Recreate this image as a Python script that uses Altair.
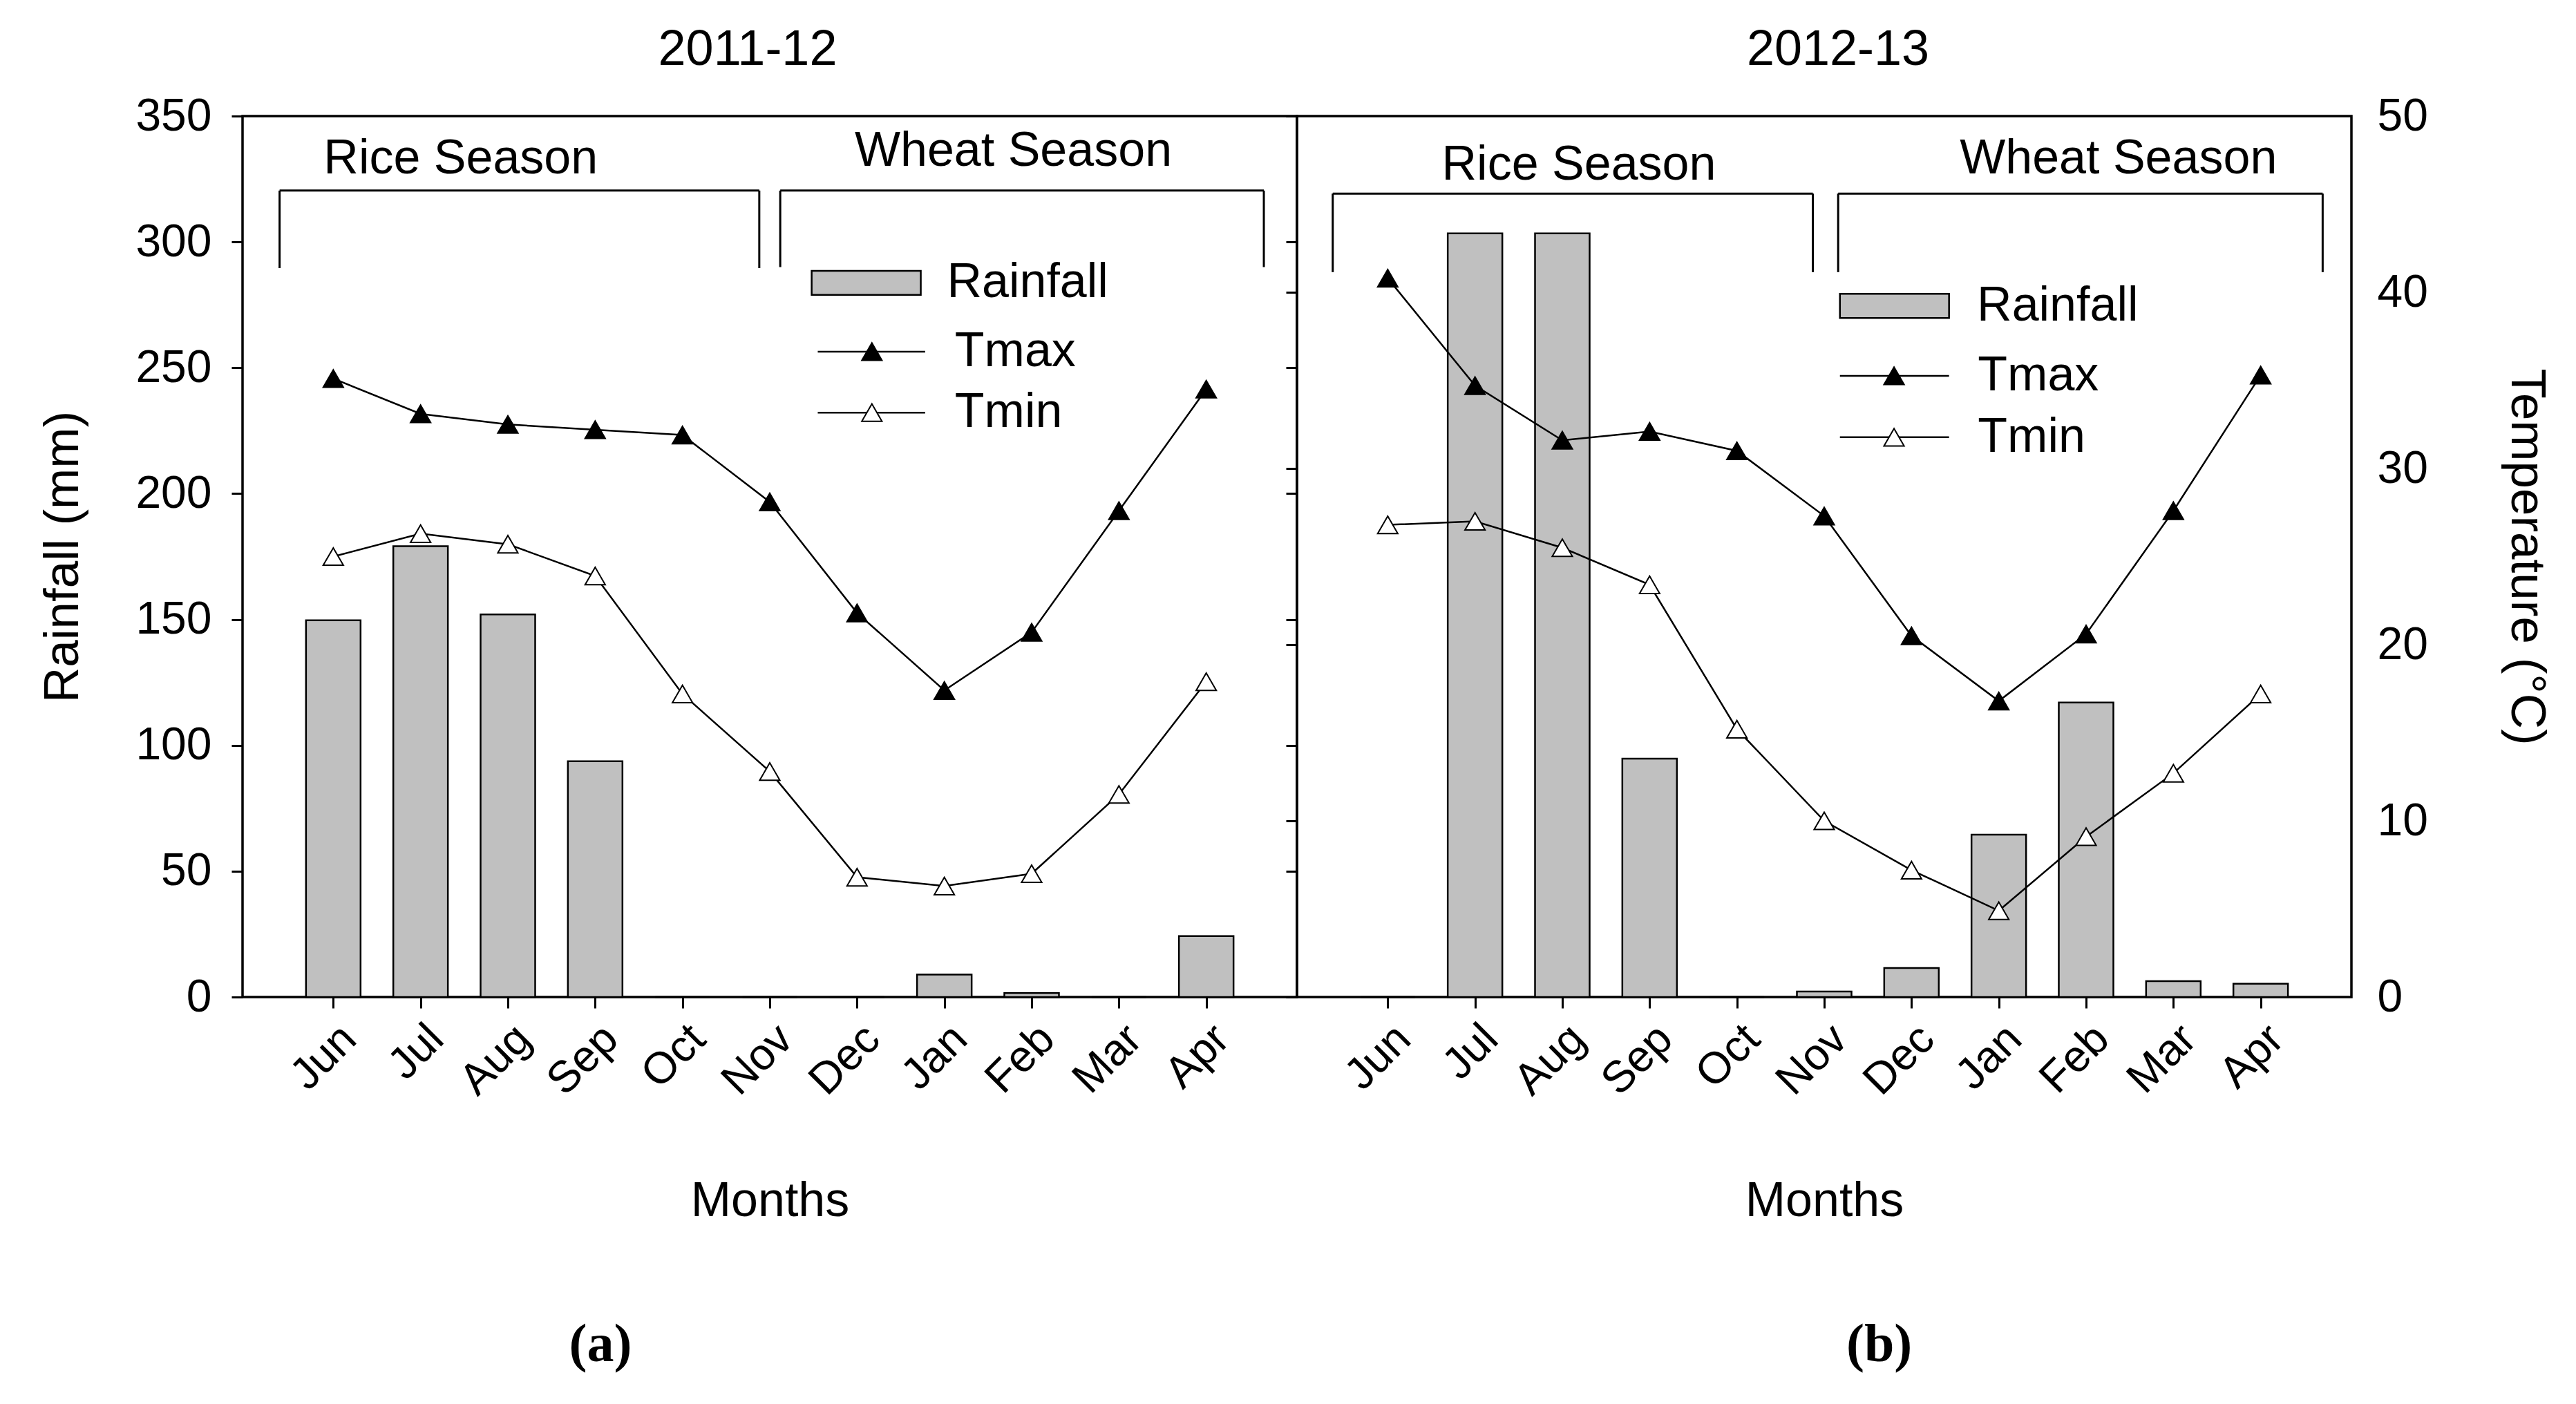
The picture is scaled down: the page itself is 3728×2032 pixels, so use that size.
import json
import altair as alt
import pandas as pd

# ---------------- data ----------------
months = ["Jun", "Jul", "Aug", "Sep", "Oct", "Nov", "Dec", "Jan", "Feb", "Mar", "Apr"]
month_idx = list(range(1, 12))

rain_1112 = [149.7, 179.1, 152.0, 93.7, 0, 0, 0, 8.9, 1.6, 0, 24.2]
tmax_1112 = [35.1, 33.1, 32.5, 32.2, 31.9, 28.1, 21.8, 17.4, 20.7, 27.6, 34.5]
tmin_1112 = [25.0, 26.3, 25.7, 23.9, 17.2, 12.8, 6.8, 6.3, 7.0, 11.5, 17.9]

rain_1213 = [0, 303.4, 303.4, 94.7, 0, 2.2, 11.5, 64.5, 117.0, 6.3, 5.3]
tmax_1213 = [40.8, 34.7, 31.6, 32.1, 31.0, 27.3, 20.5, 16.8, 20.6, 27.6, 35.3]
tmin_1213 = [26.8, 27.0, 25.5, 23.4, 15.2, 10.0, 7.2, 4.9, 9.1, 12.7, 17.2]

rain_ticks = [0, 50, 100, 150, 200, 250, 300, 350]
temp_ticks = [0, 10, 20, 30, 40, 50]

FONT = "Liberation Sans"
SERIF = "Liberation Serif"
W, H = 1526, 1275
GRAY = "#c0c0c0"
TXT = 70
label_expr = json.dumps(months).replace('"', "'") + "[datum.value - 1]"


def make_panel(rain, tmax, tmin, title, title_dx, first, ann):
    df = pd.DataFrame({"m": month_idx, "rain": rain, "tmax": tmax, "tmin": tmin})
    xs = alt.Scale(domain=[0, 12], nice=False, zero=False)
    ys_rain = alt.Scale(domain=[0, 350], nice=False)
    ys_temp = alt.Scale(domain=[0, 50], nice=False)

    x_axis = alt.Axis(values=month_idx, labelExpr=label_expr, labelAngle=315,
                      labelFontSize=64, labelFont=FONT, labelColor="black",
                      labelPadding=12, tickSize=16, tickWidth=3, tickColor="black",
                      domain=False, grid=False, title="Months", titleFont=FONT,
                      titleFontSize=70, titleFontWeight="normal", titleColor="black",
                      titlePadding=108)
    if first:
        rain_axis = alt.Axis(values=rain_ticks, orient="left", labelFontSize=66,
                             labelFont=FONT, labelColor="black", labelPadding=29,
                             tickSize=16, tickWidth=3, tickColor="black", domain=False,
                             grid=False, title="Rainfall (mm)", titleFont=FONT,
                             titleFontSize=71, titleFontWeight="normal",
                             titleColor="black", titlePadding=68)
        temp_axis = alt.Axis(values=temp_ticks, orient="right", labels=False,
                             tickSize=16, tickWidth=3, tickColor="black", offset=-16,
                             domain=False, grid=False, title="")
    else:
        rain_axis = alt.Axis(values=rain_ticks, orient="left", labels=False,
                             tickSize=16, tickWidth=3, tickColor="black",
                             domain=False, grid=False, title="")
        temp_axis = alt.Axis(values=temp_ticks, orient="right", labelFontSize=66,
                             labelFont=FONT, labelColor="black", labelPadding=37,
                             ticks=False, domain=False, grid=False,
                             title="Temperature (°C)", titleFont=FONT,
                             titleFontSize=71, titleFontWeight="normal",
                             titleColor="black", titlePadding=106)

    def XQ(field):
        return alt.X(field, scale=xs, axis=x_axis)

    def YR(field):
        return alt.Y(field, scale=ys_rain, axis=rain_axis)

    def YT(field):
        return alt.Y(field, scale=ys_temp, axis=temp_axis)

    bars = alt.Chart(df).mark_bar(size=79, fill=GRAY, stroke="black",
                                  strokeWidth=2.5).encode(x=XQ("m:Q"), y=YR("rain:Q"))

    # season brackets
    seg_rows = []
    for x0, x1, top, bot in ann["brackets"]:
        seg_rows.append({"m": x0, "x2": x1, "rain": top, "y2": top})
        seg_rows.append({"m": x0, "x2": x0, "rain": top, "y2": bot})
        seg_rows.append({"m": x1, "x2": x1, "rain": top, "y2": bot})
    segs = alt.Chart(pd.DataFrame(seg_rows)).mark_rule(
        color="black", strokeWidth=3).encode(
        x=XQ("m:Q"), x2="x2:Q", y=YR("rain:Q"), y2="y2:Q")

    season_txt = alt.Chart(pd.DataFrame(ann["seasons"])).mark_text(
        font=FONT, fontSize=TXT, color="black", align="center",
        baseline="middle").encode(x=XQ("m:Q"), y=YR("rain:Q"), text="t:N")

    # legend
    lg = ann["legend"]
    swatch = alt.Chart(pd.DataFrame([lg["swatch"]])).mark_rect(
        fill=GRAY, stroke="black", strokeWidth=2.5).encode(
        x=XQ("m:Q"), x2="x2:Q", y=YR("rain:Q"), y2="y2:Q")
    lg_lines = alt.Chart(pd.DataFrame(lg["lines"])).mark_rule(
        color="black", strokeWidth=2.5).encode(
        x=XQ("m:Q"), x2="x2:Q", y=YR("rain:Q"))
    lg_pts = alt.Chart(pd.DataFrame(lg["points"])).mark_point(
        shape="triangle-up", size=850, filled=True, stroke="black",
        strokeWidth=2, opacity=1).encode(
        x=XQ("m:Q"), y=YR("rain:Q"), fill=alt.Color("f:N", scale=None))
    lg_txt = alt.Chart(pd.DataFrame(lg["texts"])).mark_text(
        font=FONT, fontSize=TXT, color="black", align="left",
        baseline="middle").encode(x=XQ("m:Q"), y=YR("rain:Q"), text="t:N")

    tag = alt.Chart(pd.DataFrame([ann["tag"]])).mark_text(
        font=SERIF, fontSize=78, fontWeight="bold", color="black",
        align="center", baseline="middle").encode(
        x=XQ("m:Q"), y=alt.value(H + 504), text="t:N")

    rain_group = alt.layer(bars, segs, season_txt, swatch, lg_lines, lg_pts,
                           lg_txt, tag)

    line_max = alt.Chart(df).mark_line(color="black", strokeWidth=2.5).encode(
        x=XQ("m:Q"), y=YT("tmax:Q"))
    line_min = alt.Chart(df).mark_line(color="black", strokeWidth=2.5).encode(
        x=XQ("m:Q"), y=YT("tmin:Q"))
    pt_max = alt.Chart(df).mark_point(shape="triangle-up", size=850, filled=True,
                                      fill="black", stroke="black", strokeWidth=2,
                                      opacity=1).encode(x=XQ("m:Q"), y=YT("tmax:Q"))
    pt_min = alt.Chart(df).mark_point(shape="triangle-up", size=850, filled=True,
                                      fill="white", stroke="black", strokeWidth=2,
                                      opacity=1).encode(x=XQ("m:Q"), y=YT("tmin:Q"))
    temp_group = alt.layer(line_max, line_min, pt_max, pt_min)

    return alt.layer(rain_group, temp_group).resolve_scale(y="independent").properties(
        width=W, height=H,
        title=alt.TitleParams(title, font=FONT, fontSize=72, fontWeight="normal",
                              color="black", offset=26, dx=title_dx))


ann_a = {
    "brackets": [(0.385, 5.88, 320.4, 289.6), (6.12, 11.66, 320.4, 290.0)],
    "seasons": [{"m": 2.46, "rain": 333, "t": "Rice Season"},
                {"m": 8.79, "rain": 336, "t": "Wheat Season"}],
    "legend": {
        "swatch": {"m": 6.48, "x2": 7.73, "rain": 288.5, "y2": 279.0},
        "lines": [{"m": 6.55, "x2": 7.78, "rain": 256.4},
                  {"m": 6.55, "x2": 7.78, "rain": 232.2}],
        "points": [{"m": 7.17, "rain": 256.4, "f": "black"},
                   {"m": 7.17, "rain": 232.2, "f": "white"}],
        "texts": [{"m": 8.03, "rain": 283.8, "t": "Rainfall"},
                  {"m": 8.12, "rain": 256.4, "t": "Tmax"},
                  {"m": 8.12, "rain": 232.2, "t": "Tmin"}],
    },
    "tag": {"m": 4.06, "t": "(a)"},
}
ann_b = {
    "brackets": [(0.37, 5.87, 319.2, 288.0), (6.16, 11.71, 319.2, 288.0)],
    "seasons": [{"m": 3.19, "rain": 330.5, "t": "Rice Season"},
                {"m": 9.37, "rain": 333, "t": "Wheat Season"}],
    "legend": {
        "swatch": {"m": 6.18, "x2": 7.43, "rain": 279.4, "y2": 269.8},
        "lines": [{"m": 6.18, "x2": 7.43, "rain": 246.8},
                  {"m": 6.18, "x2": 7.43, "rain": 222.4}],
        "points": [{"m": 6.80, "rain": 246.8, "f": "black"},
                   {"m": 6.80, "rain": 222.4, "f": "white"}],
        "texts": [{"m": 7.75, "rain": 274.6, "t": "Rainfall"},
                  {"m": 7.76, "rain": 246.8, "t": "Tmax"},
                  {"m": 7.76, "rain": 222.4, "t": "Tmin"}],
    },
    "tag": {"m": 6.63, "t": "(b)"},
}

panel_a = make_panel(rain_1112, tmax_1112, tmin_1112, "2011-12", -32, True, ann_a)
panel_b = make_panel(rain_1213, tmax_1213, tmin_1213, "2012-13", 20, False, ann_b)

chart = alt.hconcat(panel_a, panel_b, spacing=0, bounds="flush").properties(
    padding={"left": 46, "top": 26, "right": 5, "bottom": 5},
    background="white",
).configure_view(stroke="black", strokeWidth=3.5)

chart.save("out.html", embed_options={"renderer": "svg", "actions": False})
